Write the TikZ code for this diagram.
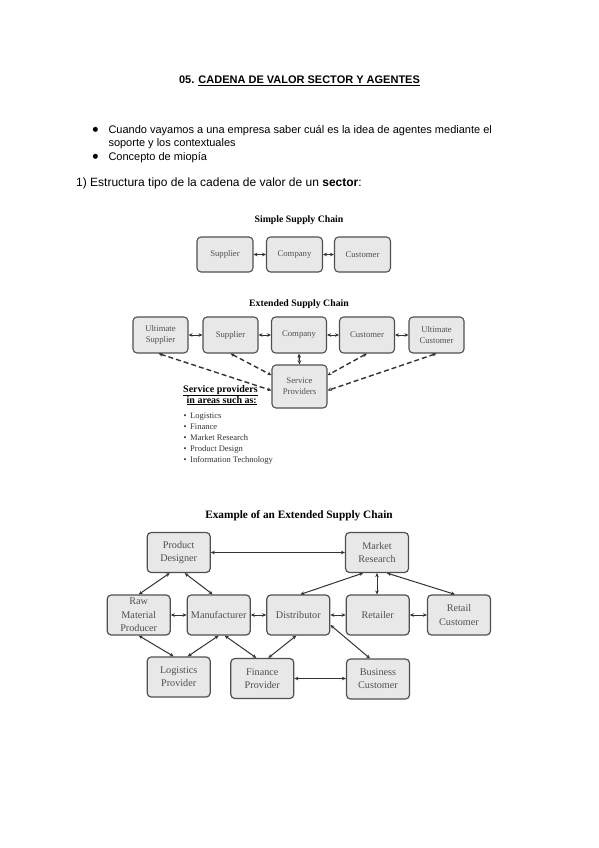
\documentclass[tikz,border=0pt]{standalone}
\usepackage{fontspec}
\setmainfont{Liberation Serif}
\newfontfamily\arialfont{Liberation Sans}
\newfontfamily\dejafont{DejaVu Sans}
\usetikzlibrary{arrows.meta,calc}
\definecolor{boxfill}{HTML}{E8E8E8}
\definecolor{boxline}{HTML}{505050}
\definecolor{boxtext}{HTML}{505050}
\definecolor{arrcol}{HTML}{333333}
\begin{document}
\begin{tikzpicture}[x=1pt,y=-1pt,
 box/.style={draw=boxline, fill=boxfill, rounded corners=4pt, line width=1.1pt, text=boxtext, align=center, inner sep=0pt, font=\fontsize{8.7}{11}\selectfont},
 sbox/.style={box, minimum width=56pt, minimum height=35pt},
 ebox/.style={box, minimum width=55pt, minimum height=36pt},
 xbox/.style={box, minimum width=63pt, minimum height=40pt, font=\fontsize{10.2}{13.3}\selectfont, line width=1.2pt},
 arr/.style={<->, >={Stealth[length=4pt,width=3.6pt]}, line width=1pt, draw=arrcol},
 darr/.style={arr, line width=1.4pt, dash pattern=on 5pt off 3pt},
 body/.style={font=\arialfont\fontsize{11}{13}\selectfont, inner sep=0pt, anchor=base west},
 bul/.style={font=\dejafont\fontsize{6.5}{8}\selectfont, inner sep=0pt, anchor=center},
 dtitle/.style={font=\bfseries\fontsize{9.8}{12}\selectfont, inner sep=0pt, anchor=base},
 listitem/.style={font=\fontsize{8.5}{10}\selectfont, inner sep=0pt, anchor=base west, text=black!80},
]
\useasboundingbox (0,0) rectangle (599,848);
\fill[white] (0,0) rectangle (599,848);

% ---- header text ----
\node[body, anchor=base, font=\arialfont\bfseries\fontsize{11}{13}\selectfont] (title) at (299.5,84) {05. \underline{CADENA DE VALOR SECTOR Y AGENTES}};
\node[bul] (b1) at (95.5,129.5) {●};
\node[body] (t1) at (108.3,133) {Cuando vayamos a una empresa saber cuál es la idea de agentes mediante el};
\node[body] (t2) at (108.3,146.5) {soporte y los contextuales};
\node[bul] (b3) at (95.5,157) {●};
\node[body] (t3) at (108.3,160.5) {Concepto de miopía};
\node[body, font=\arialfont\fontsize{12}{14}\selectfont] (t4) at (76,186) {1) Estructura tipo de la cadena de valor de un \textbf{sector}:};

% ---- simple supply chain ----
\node[dtitle] (st) at (299,222.5) {Simple Supply Chain};
\node[sbox] (s1) at (225,254.5) {Supplier};
\node[sbox] (s2) at (294.5,254.5) {Company};
\node[sbox] (s3) at (362.5,254.5) {Customer};
\draw[arr] (s1.east) -- (s2.west);
\draw[arr] (s2.east) -- (s3.west);

% ---- extended supply chain ----
\node[dtitle] (et) at (299,306.5) {Extended Supply Chain};
\node[ebox] (e1) at (160.5,335) {Ultimate\\Supplier};
\node[ebox] (e2) at (230.5,335) {Supplier};
\node[ebox] (e3) at (299,335) {Company};
\node[ebox] (e4) at (367,335) {Customer};
\node[ebox] (e5) at (436.5,335) {Ultimate\\Customer};
\node[box, minimum width=55pt, minimum height=43pt] (sp) at (299.5,386.5) {Service\\Providers};
\draw[arr] (e1.east) -- (e2.west);
\draw[arr] (e2.east) -- (e3.west);
\draw[arr] (e3.east) -- (e4.west);
\draw[arr] (e4.east) -- (e5.west);
\draw[darr] ($(e1.south)+(-2,0)$) -- (sp.188);
\draw[darr] (e2.south) -- (sp.158);
\draw[darr] (e3.south) -- (sp.north);
\draw[darr] (e4.south) -- (sp.22);
\draw[darr] (e5.south) -- (sp.352);

\node[inner sep=0pt, anchor=base west, font=\bfseries\fontsize{10}{11}\selectfont] (sp1) at (183,392) {\underline{Service providers}};
\node[inner sep=0pt, anchor=base west, font=\bfseries\fontsize{10}{11}\selectfont] (sp2) at (186.5,403) {\underline{in areas such as:}};
\node[listitem] (l1b) at (183.5,418.5) {•};
\node[listitem] (l1) at (190,418.5) {Logistics};
\node[listitem] (l2b) at (183.5,429.5) {•};
\node[listitem] (l2) at (190,429.5) {Finance};
\node[listitem] (l3b) at (183.5,440.5) {•};
\node[listitem] (l3) at (190,440.5) {Market Research};
\node[listitem] (l4b) at (183.5,451.5) {•};
\node[listitem] (l4) at (190,451.5) {Product Design};
\node[listitem] (l5b) at (183.5,462.5) {•};
\node[listitem] (l5) at (190,462.5) {Information Technology};

% ---- example of an extended supply chain ----
\node[dtitle, font=\bfseries\fontsize{11.3}{13}\selectfont] (xt) at (299,518) {Example of an Extended Supply Chain};
\node[xbox] (pd) at (178.7,552.5) {Product\\Designer};
\node[xbox] (mr) at (377,552.5) {Market\\Research};
\node[xbox] (rm) at (138.7,615) {Raw\\Material\\Producer};
\node[xbox] (mf) at (218.7,615) {Manufacturer};
\node[xbox] (di) at (298.3,615) {Distributor};
\node[xbox] (re) at (377.7,615) {Retailer};
\node[xbox] (rc) at (459,615) {Retail\\Customer};
\node[xbox] (lp) at (178.7,677) {Logistics\\Provider};
\node[xbox] (fp) at (262.3,678.5) {Finance\\Provider};
\node[xbox] (bc) at (378,679) {Business\\Customer};

\draw[arr] (pd.east) -- (pd.east -| mr.west);
\draw[arr] ($(pd.south)+(-9,0)$) -- (rm.north);
\draw[arr] ($(pd.south)+(6,0)$) -- ($(mf.north)+(-6,0)$);
\draw[arr] ($(mr.south)+(-14,0)$) -- ($(di.north)+(2,0)$);
\draw[arr] (mr.south) -- (mr.south |- re.north);
\draw[arr] ($(mr.south)+(10,0)$) -- ($(rc.north)+(-4,0)$);
\draw[arr] (rm.east) -- (mf.west);
\draw[arr] (mf.east) -- (di.west);
\draw[arr] (di.east) -- (re.west);
\draw[arr] (re.east) -- (rc.west);
\draw[arr] (rm.south) -- ($(lp.north)+(-5,0)$);
\draw[arr] (mf.south) -- ($(lp.north)+(9,0)$);
\draw[arr] ($(mf.south)+(6,0)$) -- ($(fp.north)+(-6,0)$);
\draw[arr] ($(di.south)+(-2,0)$) -- ($(fp.north)+(6,0)$);
\draw[arr] ($(di.east)+(0,10)$) -- ($(bc.north)+(-8,0)$);
\draw[arr] (fp.east) -- (fp.east -| bc.west);
\end{tikzpicture}
\end{document}
